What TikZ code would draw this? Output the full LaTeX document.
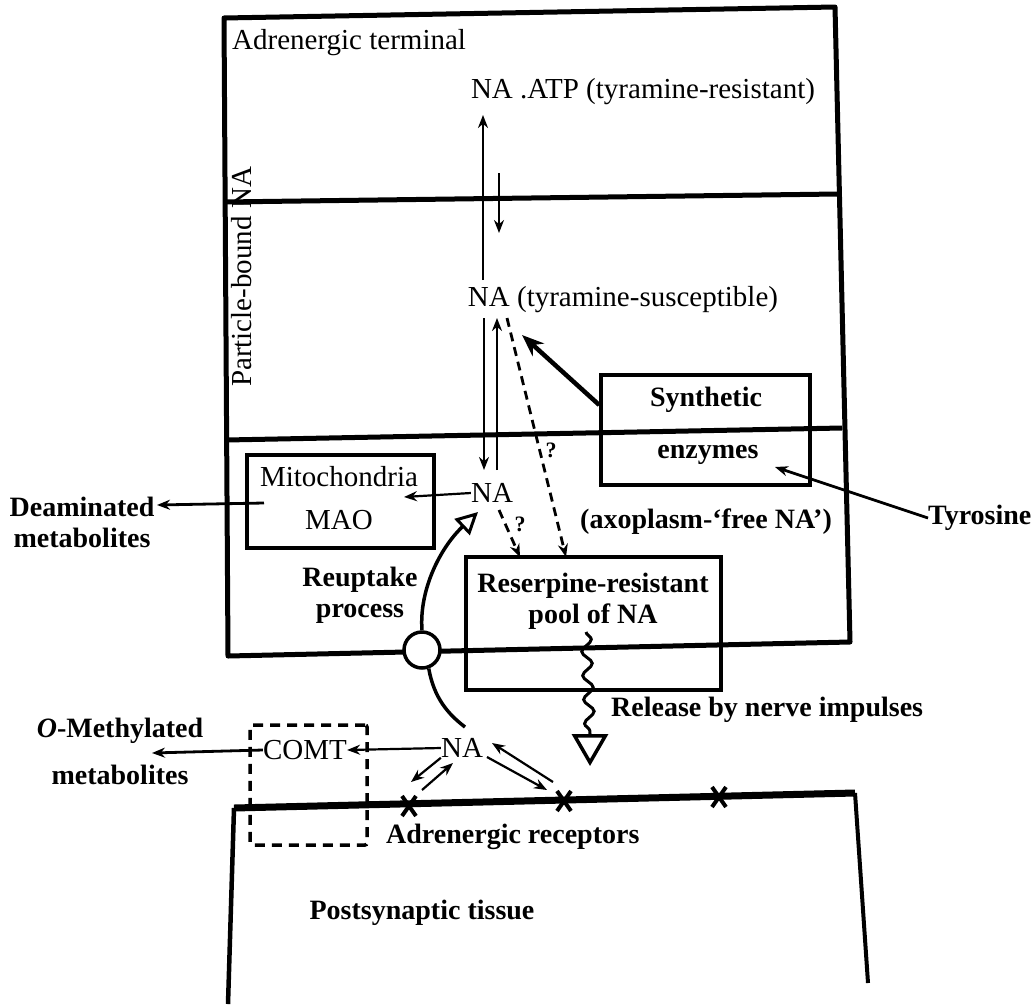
\documentclass[tikz,border=0pt]{standalone}
\usepackage{fontspec}
\setmainfont{Liberation Serif}
\usetikzlibrary{arrows.meta,decorations.pathmorphing,positioning}

\begin{document}
\begin{tikzpicture}[x=1pt,y=-1pt,
 lbl/.style={font=\fontsize{29}{32}\selectfont,inner sep=0pt},
 blbl/.style={font=\fontsize{28}{31}\selectfont\bfseries,inner sep=0pt,align=center},
 qlbl/.style={font=\fontsize{22}{24}\selectfont\bfseries,inner sep=0pt},
 arr/.style={line width=2.2pt,-{Stealth[length=13pt,width=10pt]}},
 dasharr/.style={arr,line width=2.8pt,dash pattern=on 9pt off 6pt},
 wall/.style={line width=5pt,line join=round},
 box/.style={draw,line width=3.5pt,inner sep=0pt},
 opentip/.style={-{Triangle[open,length=#1,width=#1,line width=3pt]}}]
\useasboundingbox (0,0) rectangle (1035,1004);

% terminal
\draw[wall] (224,18) -- (835,7) -- (850,642) -- (228,656) -- cycle;
\draw[wall] (224,202) -- (838,194);
\draw[wall] (226,440) -- (842,428);

% postsynaptic cell
\draw[line width=4.5pt] (228,1004) -- (234,808);
\draw[line width=7pt] (234,808) -- (855,793);
\draw[line width=4pt] (855,793) -- (868,983);

% texts
\node[lbl,anchor=west] (term) at (232,43) {Adrenergic terminal};
\node[lbl] (atp) at (643,92) {NA .ATP (tyramine-resistant)};
\node[lbl] (sus) at (623,300) {NA (tyramine-susceptible)};
\node[lbl,rotate=90] (pbound) at (242,277) {Particle-bound NA};
\node[lbl] (nafree) at (492,493) {NA};
\node[box,minimum width=187pt,minimum height=93pt] (mito) at (340.5,501.5) {};
\node[lbl] (mitotxt) at (339,477) {Mitochondria};
\node[lbl] (mao) at (339,520) {MAO};
\node[box,minimum width=209pt,minimum height=110pt] (synth) at (705.5,430) {};
\node[blbl] (syntxt) at (706,400) {Synthetic};
\node[blbl] (enz) at (708,455) {enzymes};
\node[blbl] (axo) at (706,522) {(axoplasm-`free NA')};
\node[box,minimum width=255pt,minimum height=133pt] (pool) at (593.5,623.5) {};
\node[blbl] (pooltxt) at (593,601) {Reserpine-resistant\\pool of NA};
\node[blbl] (reup) at (360,595) {Reuptake\\process};
\node[blbl] (deam) at (82,522) {Deaminated\\metabolites};
\node[blbl,anchor=west] (tyr) at (928,518) {Tyrosine};
\node[blbl,anchor=west] (rel) at (611,710) {Release by nerve impulses};
\node[lbl] (nalow) at (462,748) {NA};
\node[lbl] (comt) at (305,750) {COMT};
\node[draw,line width=3.5pt,dash pattern=on 10pt off 7pt,rounded corners=2pt,
 minimum width=117pt,minimum height=120pt] (comtbox) at (308.5,785) {};
\node[blbl] (ometh) at (120,751) {\textit{O}-Methylated\\[16pt]metabolites};
\node[blbl,anchor=west] (adrrec) at (386,837) {Adrenergic receptors};
\node[blbl] (post) at (422,913) {Postsynaptic tissue};
\node[qlbl] (q1) at (551,450) {?};
\node[qlbl] (q2) at (520,524) {?};
\node[circle,draw,fill=white,line width=3.5pt,minimum size=36pt,inner sep=0pt] (pump) at (422,650) {};

% free ends
\coordinate (atpin) at (483,115);
\coordinate (susout) at (483,280);
\coordinate (atpout) at (499,173);
\coordinate (susin) at (499,233);
\coordinate (sus1) at (484,318);
\coordinate (free1) at (484,470);
\coordinate (free2) at (497,470);
\coordinate (sus2) at (497,318);
\coordinate (sus3) at (507,318);
\coordinate (pool1) at (566,557);
\coordinate (free3) at (499,510);
\coordinate (pool2) at (520,557);
\coordinate (mitoin) at (404,497);
\coordinate (mitoout) at (264,503);
\coordinate (deamin) at (157,505);
\coordinate (sustip) at (522,335);
\coordinate (enztip) at (775,467);
\coordinate (freetip) at (478,512);
\coordinate (lowtop) at (465,727);
\coordinate (omethin) at (152,753);
\coordinate (r1) at (409,806);
\coordinate (r2) at (564,801);
\coordinate (r3) at (719,797);
\coordinate (r1a) at (411,782);
\coordinate (r1b) at (422,790);
\coordinate (nalowb) at (453,763);
\coordinate (nalowc) at (487,757);
\coordinate (r2a) at (547,790);
\coordinate (r2b) at (553,782);
\coordinate (nalowd) at (492,743);
\coordinate (sqtop) at (586,632);
\coordinate (sqend) at (590,734);
\coordinate (reltip) at (590,766);

% connectors
\draw[arr] (susout) -- (atpin);
\draw[arr] (atpout) -- (susin);
\draw[arr] (sus1) -- (free1);
\draw[arr] (free2) -- (sus2);
\draw[dasharr] (sus3) -- (pool1);
\draw[dasharr] (free3) -- (pool2);
\draw[arr] (nafree.west) -- (mitoin);
\draw[arr,line width=2.8pt] (mitoout) -- (deamin);
\draw[line width=4.5pt,-{Stealth[length=22pt,width=17pt]}] ([yshift=25pt]synth.west) -- (sustip);
\draw[line width=2.8pt,-{Stealth[length=13pt,width=10pt]}] (tyr.west) -- (enztip);
\draw[line width=3.5pt,opentip=22pt] (pump.north) .. controls (419,590) and (440,548) .. (freetip);
\draw[line width=3.5pt] (pump.-70) .. controls (434,698) and (448,714) .. (lowtop);
\draw[arr] (nalow.west) -- (comt.east);
\draw[arr,line width=2.8pt] (comt.west) -- (omethin);
\draw[arr] (nalow.south west) -- (r1a);
\draw[arr] (r1b) -- (nalowb);
\draw[arr] (nalowc) -- (r2a);
\draw[arr] (r2b) -- (nalowd);
\draw[line width=3pt,decorate,decoration={snake,amplitude=5pt,segment length=24pt}] (sqtop) -- (sqend);
\draw[line width=3.5pt,-{Triangle[open,length=32pt,width=36pt,line width=3.5pt]}] (sqend) -- (reltip);

% receptors
\foreach \r in {r1,r2,r3}
 \draw[line width=4pt] ([shift={(-7,-10)}]\r) -- ([shift={(7,10)}]\r)
  ([shift={(-7,10)}]\r) -- ([shift={(7,-10)}]\r);
\end{tikzpicture}
\end{document}
